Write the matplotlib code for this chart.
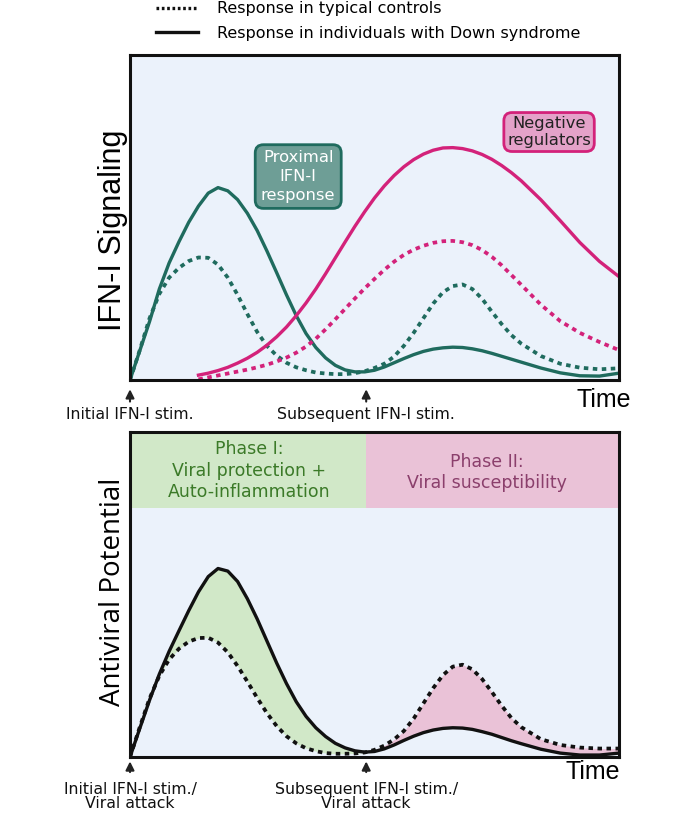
import numpy as np
import matplotlib
matplotlib.use("Agg")
import matplotlib.pyplot as plt
from matplotlib.lines import Line2D

# --- data (x: time 0-100, y: 0-1) ---
x_grid = [0, 2, 4, 6, 8, 10, 12, 14, 16, 18, 20, 22, 24, 26, 28, 30, 32, 34, 36, 38,
          40, 42, 44, 46, 48, 50, 52, 54, 56, 58, 60, 62, 64, 66, 68, 70, 72, 74, 76, 78,
          80, 84, 88, 92, 96, 100]

teal_ds = [0.0, 0.09, 0.18, 0.28, 0.36, 0.425, 0.485, 0.535, 0.575, 0.592, 0.582, 0.555,
           0.513, 0.46, 0.397, 0.33, 0.262, 0.198, 0.143, 0.10, 0.068, 0.045, 0.031, 0.025,
           0.025, 0.03, 0.04, 0.053, 0.066, 0.078, 0.088, 0.095, 0.099, 0.101, 0.10, 0.096,
           0.09, 0.082, 0.073, 0.064, 0.055, 0.037, 0.022, 0.013, 0.012, 0.021]
teal_ctrl = [0.0, 0.092, 0.19, 0.265, 0.315, 0.345, 0.366, 0.377, 0.376, 0.355, 0.315,
             0.262, 0.203, 0.148, 0.105, 0.075, 0.053, 0.039, 0.03, 0.023, 0.02, 0.018,
             0.018, 0.021, 0.027, 0.037, 0.05, 0.072, 0.105, 0.145, 0.19, 0.235, 0.27, 0.289,
             0.294, 0.28, 0.25, 0.21, 0.172, 0.138, 0.112, 0.074, 0.05, 0.038, 0.033, 0.036]

x_neg = x_grid[7:]
neg_ds = [0.015, 0.021, 0.029, 0.039, 0.052, 0.067, 0.085, 0.107, 0.133, 0.163, 0.198,
          0.237, 0.28, 0.327, 0.376, 0.425, 0.473, 0.518, 0.56, 0.597, 0.629, 0.656, 0.678,
          0.695, 0.707, 0.714, 0.715, 0.712, 0.705, 0.694, 0.679, 0.66, 0.638, 0.613, 0.555,
          0.49, 0.423, 0.365, 0.318]
neg_ctrl = [0.002, 0.008, 0.014, 0.02, 0.026, 0.032, 0.039, 0.047, 0.057, 0.069, 0.084,
            0.103, 0.127, 0.156, 0.187, 0.219, 0.251, 0.282, 0.311, 0.339, 0.364, 0.385,
            0.401, 0.413, 0.422, 0.427, 0.428, 0.424, 0.415, 0.40, 0.379, 0.353, 0.323,
            0.293, 0.232, 0.181, 0.145, 0.117, 0.092]

av_ds = [0.0, 0.088, 0.175, 0.255, 0.325, 0.388, 0.45, 0.508, 0.555, 0.58, 0.572, 0.54,
         0.487, 0.425, 0.357, 0.289, 0.226, 0.17, 0.125, 0.09, 0.063, 0.042, 0.028, 0.019,
         0.015, 0.017, 0.025, 0.037, 0.051, 0.064, 0.075, 0.083, 0.088, 0.09, 0.089, 0.085,
         0.078, 0.07, 0.06, 0.05, 0.041, 0.024, 0.012, 0.006, 0.006, 0.012]
av_ctrl = [0.0, 0.092, 0.18, 0.25, 0.30, 0.333, 0.355, 0.366, 0.367, 0.352, 0.322, 0.28,
           0.232, 0.182, 0.135, 0.095, 0.064, 0.042, 0.027, 0.018, 0.012, 0.01, 0.01, 0.011,
           0.014, 0.022, 0.035, 0.054, 0.08, 0.118, 0.165, 0.212, 0.252, 0.278, 0.284, 0.27,
           0.24, 0.20, 0.158, 0.12, 0.092, 0.055, 0.037, 0.029, 0.026, 0.026]

stim_x = [0, 48.3]
stim_top = ["Initial IFN-I stim.", "Subsequent IFN-I stim."]
stim_bot = ["Initial IFN-I stim./\nViral attack", "Subsequent IFN-I stim./\nViral attack"]
phase_split = 48.3

# --- style ---
TEAL = "#1f6b5e"
MAG = "#d3227a"
BG = "#ebf2fb"
DOT = (0, (1.2, 1.2))

fig = plt.figure(figsize=(7, 8.14), dpi=100)
W, H = 700, 814


def px_axes(l, t, r, b):
    return fig.add_axes([l / W, 1 - b / H, (r - l) / W, (b - t) / H])


ax1 = px_axes(130, 55, 619, 380)
ax2 = px_axes(130, 432, 619, 757)

for ax in (ax1, ax2):
    ax.set_facecolor(BG)
    ax.set_xlim(0, 100)
    ax.set_ylim(0, 1)
    ax.set_xticks([])
    ax.set_yticks([])
    for s in ax.spines.values():
        s.set_linewidth(2.2)
        s.set_color("#111111")

# top panel
ax1.plot(x_grid, teal_ds, color=TEAL, lw=2.4, solid_joinstyle="round")
ax1.plot(x_grid, teal_ctrl, color=TEAL, lw=2.7, linestyle=DOT)
ax1.plot(x_neg, neg_ds, color=MAG, lw=2.4, solid_joinstyle="round")
ax1.plot(x_neg, neg_ctrl, color=MAG, lw=2.7, linestyle=DOT)

ax1.text(34.4, 0.626, "Proximal\nIFN-I\nresponse", ha="center", va="center", fontsize=11.8,
         color="white", linespacing=1.3,
         bbox=dict(boxstyle="round,pad=0.35,rounding_size=0.5", fc="#6e9e96", ec=TEAL, lw=2))
ax1.text(85.7, 0.763, "Negative\nregulators", ha="center", va="center", fontsize=11.8,
         color="#222222", linespacing=1.2,
         bbox=dict(boxstyle="round,pad=0.2,rounding_size=0.5", fc="#e4a2c9", ec=MAG, lw=2))

# bottom panel
ax2.axvspan(0, phase_split, ymin=0.766, ymax=1, color="#d1e8c8", lw=0)
ax2.axvspan(phase_split, 100, ymin=0.766, ymax=1, color="#eac2d7", lw=0)
xa = np.array(x_grid)
ya = np.array(av_ds)
yc = np.array(av_ctrl)
ax2.fill_between(xa, ya, yc, where=(xa <= 50), color="#d1e8c8", lw=0)
ax2.fill_between(xa, ya, yc, where=(xa >= 48), color="#eac2d7", lw=0)
ax2.plot(x_grid, av_ds, color="#111111", lw=2.4, solid_joinstyle="round")
ax2.plot(x_grid, av_ctrl, color="#111111", lw=2.7, linestyle=DOT)

ax2.text(24.3, 0.88, "Phase I:\nViral protection +\nAuto-inflammation", ha="center",
         va="center", fontsize=12.5, color="#3b7a28", linespacing=1.25)
ax2.text(73, 0.875, "Phase II:\nViral susceptibility", ha="center", va="center",
         fontsize=12.5, color="#8b3f6c", linespacing=1.25)

# axis labels
fig.text(113 / W, 1 - 230 / H, "IFN-I Signaling", rotation=90, ha="center", va="center",
         fontsize=22, family="Liberation Sans")
fig.text(113 / W, 1 - 592 / H, "Antiviral Potential", rotation=90, ha="center", va="center",
         fontsize=20, family="Open Sans")
fig.text(604 / W, 1 - 400 / H, "Time", ha="center", va="center", fontsize=18,
         family="Liberation Sans")
fig.text(593 / W, 1 - 772 / H, "Time", ha="center", va="center", fontsize=18,
         family="Liberation Sans")

# stimulation arrows + labels
for xs, lab in zip(stim_x, stim_top):
    ax1.annotate("", xy=(xs, -0.02), xytext=(xs, -0.075), xycoords="data",
                 annotation_clip=False,
                 arrowprops=dict(arrowstyle="-|>,head_width=0.25,head_length=0.5",
                                 color="#222222", lw=1.5))
    ax1.text(xs, -0.105, lab, ha="center", va="center", fontsize=11.3, color="#111111")
for xs, lab in zip(stim_x, stim_bot):
    ax2.annotate("", xy=(xs, -0.005), xytext=(xs, -0.055), xycoords="data",
                 annotation_clip=False,
                 arrowprops=dict(arrowstyle="-|>,head_width=0.25,head_length=0.5",
                                 color="#222222", lw=1.5))
    ax2.text(xs, -0.122, lab, ha="center", va="center", fontsize=11.3, color="#111111",
             linespacing=0.95)

# legend at the top
leg_handles = [Line2D([], [], color="#111111", lw=2.4, linestyle=(0, (0.8, 0.8))),
               Line2D([], [], color="#111111", lw=2.4)]
fig.legend(leg_handles, ["Response in typical controls",
                         "Response in individuals with Down syndrome"],
           loc="upper left", bbox_to_anchor=(150 / W, 1 + 5 / H), frameon=False,
           fontsize=11.5, handlelength=2.6, handletextpad=1.2, labelspacing=0.6,
           borderaxespad=0)

fig.savefig("out.png", dpi=100)
